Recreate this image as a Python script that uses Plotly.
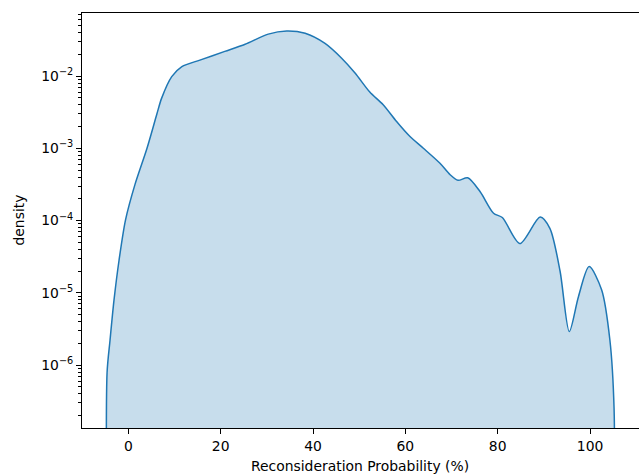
import plotly.graph_objects as go

# Data (KDE of reconsideration probability, log density)
prob_pct = [-4.6, -3.96, -3.1, -2.0, -0.6, 1.45, 4.05, 6.2, 7.2, 9.4, 11.6, 15.5, 20.9,
            25.3, 30.3, 34.3, 38.3, 42.6, 46.2, 49.1, 52.3, 55.2, 58.1, 61.0, 63.9,
            67.5, 69.7, 71.4, 73.5, 76.2, 79.1, 81.0, 84.8, 89.2, 91.3, 93.5, 95.5,
            97.5, 99.8, 102.5, 104.3, 105.2]
density = [7.8e-7, 2.2e-6, 7.9e-6, 2.84e-5, 1.02e-4, 3.16e-4, 1.0e-3, 3.0e-3, 4.9e-3,
           9.8e-3, 1.35e-2, 1.66e-2, 2.19e-2, 2.75e-2, 3.8e-2, 4.2e-2, 3.9e-2,
           2.82e-2, 1.76e-2, 1.1e-2, 6.0e-3, 4.0e-3, 2.34e-3, 1.45e-3, 1.0e-3,
           6.2e-4, 4.3e-4, 3.6e-4, 3.9e-4, 2.5e-4, 1.26e-4, 1.1e-4, 4.8e-5,
           1.12e-4, 7.8e-5, 2.0e-5, 2.9e-6, 8.9e-6, 2.3e-5, 1.1e-5, 2.2e-6, 2.5e-7]
x_ticks = [0, 20, 40, 60, 80, 100]
y_tick_exps = [-6, -5, -4, -3, -2]
floor_val = 1e-9

xs = [prob_pct[0]] + prob_pct + [prob_pct[-1]]
ys = [floor_val] + density + [floor_val]

fig = go.Figure()
fig.add_trace(go.Scatter(
    x=xs, y=ys, mode="lines", fill="toself",
    fillcolor="rgba(31,119,180,0.25)",
    line=dict(color="#1f77b4", width=1.5, shape="spline", smoothing=0.8),
    hoverinfo="skip", showlegend=False,
))

minor_vals = [k * 10.0 ** n for n in range(-8, 0) for k in range(2, 10)]

font = dict(family="DejaVu Sans", size=13.9, color="black")
fig.update_layout(
    width=639, height=475,
    margin=dict(l=82, r=0, t=13, b=47),
    paper_bgcolor="white", plot_bgcolor="white",
    font=font,
    xaxis=dict(
        range=[-10.03, 110.6], tickvals=x_ticks, ticks="outside", ticklen=5,
        tickwidth=1, tickcolor="black", showline=True, linecolor="black",
        linewidth=1, mirror=True, showgrid=False, zeroline=False,
        tickfont=font,
    ),
    yaxis=dict(
        type="log", range=[-6.872, -1.128],
        tickvals=[10.0 ** e for e in y_tick_exps],
        ticktext=["10<sup>\u2212%d</sup>" % (-e) for e in y_tick_exps],
        ticks="outside", ticklen=5, tickwidth=1, tickcolor="black",
        minor=dict(tickvals=minor_vals, ticks="outside", ticklen=3,
                   tickwidth=0.8, tickcolor="black", showgrid=False),
        showline=True, linecolor="black", linewidth=1, mirror=False,
        showgrid=False, zeroline=False, tickfont=font,
    ),
    annotations=[
        dict(text="Reconsideration Probability (%)", xref="paper", yref="paper",
             x=(360 - 82) / 557, y=(428 - 466) / 415, xanchor="center",
             yanchor="middle", showarrow=False, font=font),
        dict(text="density", xref="paper", yref="paper",
             x=(18 - 82) / 557, y=0.5, xanchor="center", yanchor="middle",
             textangle=-90, showarrow=False, font=font),
    ],
)

fig.write_html("out.html", config={"displayModeBar": False},
               post_script="document.body.style.margin='0';")
